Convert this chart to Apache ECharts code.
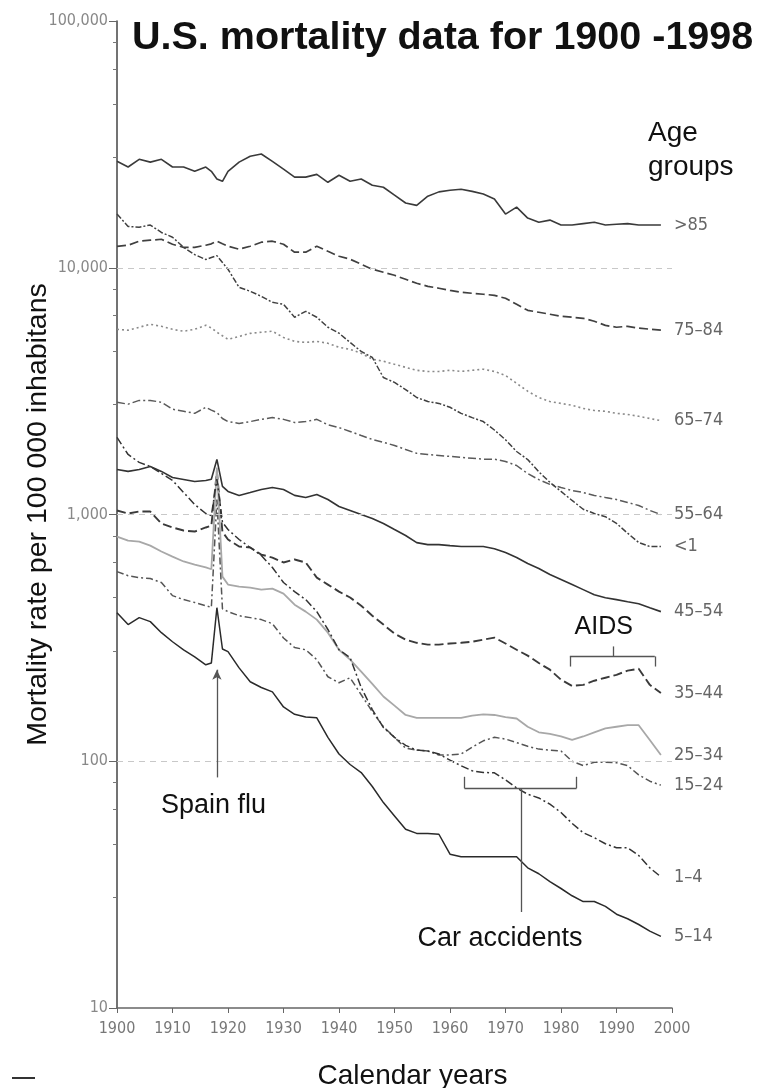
<!DOCTYPE html>
<html>
<head>
<meta charset="utf-8">
<title>U.S. mortality data for 1900-1998</title>
<script src="https://cdn.jsdelivr.net/npm/echarts@6/dist/echarts.min.js"></script>
<style>
  html, body { margin: 0; padding: 0; background: #fff; }
  #main { width: 762px; height: 1088px; }
</style>
</head>
<body>
<div id="main"></div>
<script>
// years: every 2 years, 1917 and 1919 added so the flu spike stays narrow
var years = [1900,1902,1904,1906,1908,1910,1912,1914,1916,1917,1918,1919,
  1920,1922,1924,1926,1928,1930,1932,1934,1936,1938,
  1940,1942,1944,1946,1948,1950,1952,1954,1956,1958,
  1960,1962,1964,1966,1968,1970,1972,1974,1976,1978,
  1980,1982,1984,1986,1988,1990,1992,1994,1996,1998];

// deaths per 100 000
var over85 = [27000,25600,27500,26800,27500,25600,25600,24600,25600,24600,22900,22400,
  24600,26800,28300,28900,27000,25100,23300,23300,23900,22200,
  23700,22400,22900,21600,21200,19700,18300,17900,19500,20300,
  20600,20800,20400,19900,19000,16500,17600,15900,15300,15600,
  14900,14900,15100,15300,14900,15000,15100,14900,14900,14900];
var age75 = [12200,12340,12810,12930,13050,12450,12100,12100,12340,12500,12810,12500,
  12220,11890,12220,12690,12810,12450,11560,11560,12220,11660,
  11130,10830,10330,9860,9590,9320,8980,8650,8410,8260,
  8100,7960,7880,7810,7730,7520,7110,6720,6600,6480,
  6360,6300,6240,6070,5840,5740,5790,5690,5640,5590];
var age65 = [5630,5580,5740,5900,5790,5630,5530,5630,5850,5700,5480,5300,
  5130,5270,5420,5480,5530,5220,5030,4980,5030,4940,
  4760,4670,4500,4260,4180,4060,3950,3840,3800,3800,
  3840,3800,3840,3880,3800,3660,3400,3160,2980,2870,
  2820,2770,2690,2640,2620,2570,2545,2500,2450,2400];
var age55 = [2850,2800,2900,2900,2850,2670,2620,2570,2720,2650,2590,2450,
  2380,2340,2380,2430,2470,2430,2360,2380,2430,2310,
  2250,2170,2090,2015,1960,1905,1835,1770,1750,1735,
  1720,1705,1690,1675,1675,1640,1580,1465,1385,1325,
  1287,1251,1228,1195,1172,1150,1118,1088,1039,1000];
var under1 = [16500,14700,14600,14900,13900,13300,12100,11300,10800,11000,11200,10500,
  9860,8330,8030,7660,7240,7110,6300,6660,6300,5740,
  5430,4980,4580,4330,3590,3430,3210,2980,2870,2820,
  2720,2570,2470,2380,2200,2010,1800,1670,1490,1350,
  1240,1140,1050,1010,980,920,840,770,742,742];
var age45 = [1523,1495,1523,1566,1495,1412,1387,1361,1374,1390,1672,1300,
  1240,1195,1228,1263,1287,1263,1195,1172,1206,1150,
  1078,1039,1000,963,919,869,822,769,755,755,
  748,742,742,742,727,701,669,633,604,571,
  545,520,496,473,460,452,443,435,419,404];
var age35 = [1038,1009,1028,1028,919,886,861,853,886,900,1494,850,
  792,742,735,688,669,639,657,639,555,520,
  487,461,427,389,358,329,311,302,297,297,
  300,302,305,311,317,300,283,268,250,235,
  214,202,204,212,218,224,233,237,204,189];
var age25 = [814,784,777,748,708,675,645,627,610,600,1551,560,
  520,510,505,496,501,478,431,404,375,332,
  283,258,231,206,183,168,154,150,150,150,
  150,150,153,155,154,151,149,138,131,129,
  126,122,126,131,136,138,140,140,122,106];
var age15 = [587,565,555,550,530,469,452,440,427,420,1150,415,
  404,389,382,375,361,316,289,283,258,220,
  208,218,186,159,138,125,113,111,110,106,
  106,107,114,121,125,123,119,115,112,111,
  110,100,96,99,99,98.6,96,88,83,80];
var age1 = [2053,1751,1626,1566,1467,1374,1228,1098,1009,990,1390,930,
  869,792,735,682,610,530,487,452,404,342,
  283,263,199,162,137,125,116,111,110,107,
  101,95.9,91.5,90,89.8,84,78,73.5,71,67,
  62,56,51.3,49,46.3,44.6,44.6,41.5,37,34];
var age5 = [400,358,382,368,332,305,283,265,246,250,419,285,
  278,239,210,199,191,166,155,151,150,125,
  107,97,90,79,68,60,53,51,51,50.6,
  42,41,41,41,41,41,41,37,35,32.5,
  30.5,28.5,27,27,25.8,24,23,21.8,20.5,19.5];

var groupNames = ['>85', '75\u201384', '65\u201374', '55\u201364', '<1', '45\u201354',
  '35\u201344', '25\u201334', '15\u201324', '1\u20134', '5\u201314'];
var groupValues = [over85, age75, age65, age55, under1, age45, age35, age25, age15, age1, age5];

var gridValues = [10000, 1000, 100];

// annotation brackets / arrow, in data units [year, rate]
var fluArrow = [[1918, 86], [1918, 235]];
var aidsBracket = [[1981.6, 266], [1996.9, 266]];
var aidsTicks = [[[1981.6, 266], [1981.6, 242]], [[1996.9, 266], [1996.9, 242]], [[1989.5, 266], [1989.5, 292]]];
var carBracket = [[1962.6, 77.7], [1982.8, 77.7]];
var carTicks = [[[1962.6, 77.7], [1962.6, 86.5]], [[1982.8, 77.7], [1982.8, 86.5]], [[1972.8, 77.7], [1972.8, 24.5]]];
var notes = [
  {name: 'Spain flu', coord: [1917.4, 66]},
  {name: 'AIDS', coord: [1987.7, 350]},
  {name: 'Car accidents', coord: [1969, 19.2]}
];

var sans = '"Liberation Sans", Arial, sans-serif';
var narrow = '"DejaVu Sans Condensed", "Liberation Sans Narrow", sans-serif';

var looks = [
  {color: '#3a3a3a', type: 'solid', width: 1.6},
  {color: '#404040', type: [9, 4], width: 1.7},
  {color: '#8a8a8a', type: [2, 3], width: 1.6},
  {color: '#5a5a5a', type: [8, 3, 2, 3], width: 1.5},
  {color: '#404040', type: [6, 2, 2, 2], width: 1.5},
  {color: '#333333', type: 'solid', width: 1.6},
  {color: '#3a3a3a', type: [9, 4], width: 1.9},
  {color: '#a8a8a8', type: 'solid', width: 1.8},
  {color: '#555555', type: [7, 3, 2, 3], width: 1.5},
  {color: '#333333', type: [8, 3, 2, 3], width: 1.5},
  {color: '#2a2a2a', type: 'solid', width: 1.5}
];

var chart = echarts.init(document.getElementById('main'));

function pairs(vals) {
  return years.map(function (y, i) { return [y, vals[i]]; });
}

var lineStyleThin = {color: '#555', width: 1.3, type: 'solid'};

var series = groupNames.map(function (name, i) {
  return {
    name: name,
    type: 'line',
    data: pairs(groupValues[i]),
    showSymbol: false,
    symbol: 'none',
    lineStyle: {color: looks[i].color, type: looks[i].type, width: looks[i].width},
    itemStyle: {color: looks[i].color},
    endLabel: {
      show: true,
      formatter: name,
      distance: 13,
      color: '#666',
      fontSize: 18,
      fontFamily: narrow
    },
    z: 3
  };
});

// dashed reference lines at 10 000 / 1 000 / 100
series[0].markLine = {
  silent: true,
  symbol: 'none',
  label: {show: false},
  lineStyle: {color: '#c8c8c8', type: [6, 5], width: 1},
  data: gridValues.map(function (v) { return {yAxis: v}; })
};

// brackets and arrow
function seg(a, b) { return [{coord: a}, {coord: b}]; }
var annoLines = [seg(aidsBracket[0], aidsBracket[1]), seg(carBracket[0], carBracket[1])]
  .concat(aidsTicks.map(function (t) { return seg(t[0], t[1]); }))
  .concat(carTicks.map(function (t) { return seg(t[0], t[1]); }));
annoLines.push([{coord: fluArrow[0], symbol: 'none'}, {coord: fluArrow[1], symbol: 'arrow', symbolSize: [7, 10]}]);

series[10].markLine = {
  silent: true,
  symbol: 'none',
  label: {show: false},
  lineStyle: lineStyleThin,
  data: annoLines
};

series[5].markPoint = {
  silent: true,
  symbol: 'circle',
  symbolSize: 1,
  itemStyle: {color: 'rgba(0,0,0,0)'},
  label: {
    show: true,
    position: 'inside',
    formatter: function (p) { return p.name; },
    color: '#111',
    fontSize: 27,
    fontFamily: sans
  },
  data: notes.map(function (n) {
    return {name: n.name, coord: n.coord,
      label: n.name === 'AIDS' ? {fontSize: 25} : {}};
  })
};

var option = {
  animation: false,
  backgroundColor: '#ffffff',
  title: {
    text: 'U.S. mortality data for 1900 -1998',
    left: 132,
    top: 18,
    padding: 0,
    textStyle: {fontSize: 39.5, fontWeight: 'bold', color: '#111', fontFamily: sans}
  },
  grid: {left: 117, right: 90, top: 21, bottom: 80, outerBoundsMode: 'none'},
  xAxis: {
    type: 'value',
    min: 1900,
    max: 2000,
    interval: 10,
    axisLine: {lineStyle: {color: '#666', width: 1.5}},
    axisTick: {length: 5, lineStyle: {color: '#666'}},
    splitLine: {show: false},
    axisLabel: {
      color: '#777',
      fontSize: 16,
      fontFamily: narrow,
      margin: 13,
      formatter: function (v) { return String(v); }
    },
    name: 'Calendar years',
    nameLocation: 'middle',
    nameGap: 54,
    nameMoveOverlap: false,
    nameTextStyle: {fontSize: 28, color: '#111', fontFamily: sans, padding: [0, 0, 0, 36]}
  },
  yAxis: {
    type: 'log',
    logBase: 10,
    min: 10,
    max: 100000,
    axisLine: {show: true, lineStyle: {color: '#444', width: 1.5}},
    axisTick: {show: true, length: 8, lineStyle: {color: '#666'}},
    minorTick: {show: true, length: 4, lineStyle: {color: '#777'}},
    splitLine: {show: false},
    axisLabel: {
      color: '#888',
      fontSize: 16,
      fontFamily: narrow,
      margin: 9,
      formatter: function (v) { return String(Math.round(v)).replace(/\B(?=(\d{3})+(?!\d))/g, ','); }
    },
    name: 'Mortality rate per 100 000 inhabitans',
    nameLocation: 'middle',
    nameRotate: 90,
    nameGap: 64,
    nameMoveOverlap: false,
    nameTextStyle: {fontSize: 28.5, color: '#111', fontFamily: sans}
  },
  graphic: [
    {
      type: 'text',
      left: 648,
      top: 116,
      style: {text: 'Age\ngroups', font: '28px "Liberation Sans", Arial, sans-serif', fill: '#111', lineHeight: 34}
    },
    {
      type: 'line',
      shape: {x1: 12, y1: 1078, x2: 35, y2: 1078},
      style: {stroke: '#333', lineWidth: 2}
    }
  ],
  series: series
};

chart.setOption(option);
</script>
</body>
</html>
